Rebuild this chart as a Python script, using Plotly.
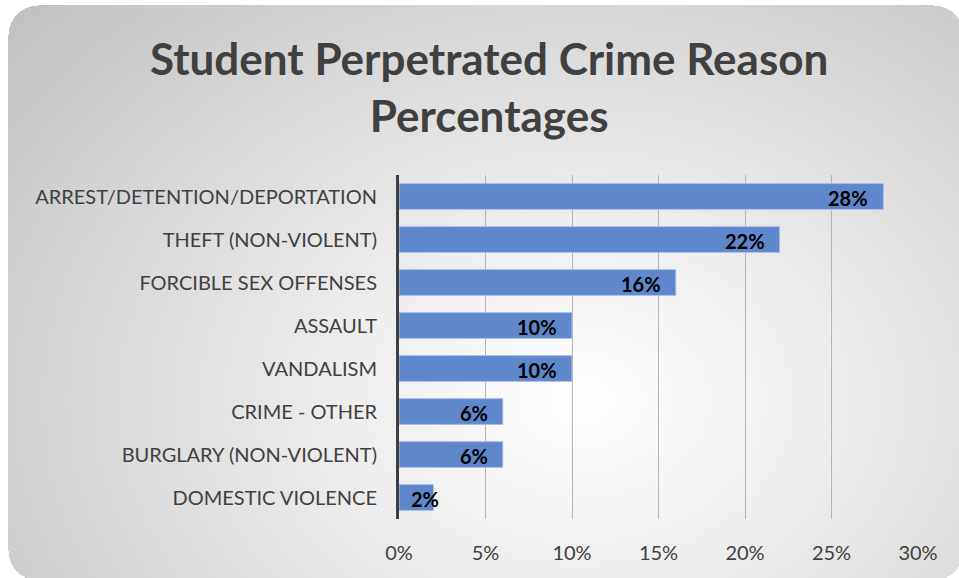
import base64
import struct
import zlib

import numpy as np
import plotly.graph_objects as go

# ---------------- data ----------------
categories = [
    "ARREST/DETENTION/DEPORTATION",
    "THEFT (NON-VIOLENT)",
    "FORCIBLE SEX OFFENSES",
    "ASSAULT",
    "VANDALISM",
    "CRIME - OTHER",
    "BURGLARY (NON-VIOLENT)",
    "DOMESTIC VIOLENCE",
]
values = [28, 22, 16, 10, 10, 6, 6, 2]
value_labels = ["28%", "22%", "16%", "10%", "10%", "6%", "6%", "2%"]
x_tick_values = [0, 5, 10, 15, 20, 25, 30]
x_tick_labels = ["0%", "5%", "10%", "15%", "20%", "25%", "30%"]
title_text = "Student Perpetrated Crime Reason<br>Percentages"

# ---------------- layout constants ----------------
W, H = 959, 578
ML, MR, MT, MB = 399, 41, 175, 59
FONT = "Lato, 'Open Sans', sans-serif"
TEXT_COLOR = "#404040"


def make_background_png(w, h):
    yy, xx = np.mgrid[0:h, 0:w].astype(float)
    cx, cy, rx, ry = 580.0, 400.0, 650.0, 500.0
    d = np.sqrt(((xx - cx) / rx) ** 2 + ((yy - cy) / ry) ** 2)
    val = 255 - 52 * np.clip(d, 0, 1.3) ** 1.1
    val = np.clip(val, 0, 255)
    # rounded rectangle alpha
    x0, y0, x1, y1, r = 8.0, 5.0, w + 4.0, h + 2.0, 30.0
    inside = (xx >= x0) & (xx <= x1) & (yy >= y0) & (yy <= y1)
    for (ccx, ccy) in [(x0 + r, y0 + r), (x1 - r, y0 + r), (x0 + r, y1 - r), (x1 - r, y1 - r)]:
        corner = ((xx < x0 + r) if ccx < w / 2 else (xx > x1 - r)) & \
                 ((yy < y0 + r) if ccy < h / 2 else (yy > y1 - r))
        outside_circle = (xx - ccx) ** 2 + (yy - ccy) ** 2 > r * r
        inside &= ~(corner & outside_circle)
    alpha = np.where(inside, 255, 0)
    rgba = np.stack([val, val, val, alpha], axis=-1).astype(np.uint8)
    raw = b"".join(b"\x00" + rgba[i].tobytes() for i in range(h))

    def chunk(tag, data):
        c = struct.pack(">I", len(data)) + tag + data
        return c + struct.pack(">I", zlib.crc32(tag + data) & 0xFFFFFFFF)

    png = b"\x89PNG\r\n\x1a\n"
    png += chunk(b"IHDR", struct.pack(">IIBBBBB", w, h, 8, 6, 0, 0, 0))
    png += chunk(b"IDAT", zlib.compress(raw, 9))
    png += chunk(b"IEND", b"")
    return "data:image/png;base64," + base64.b64encode(png).decode()


bg = make_background_png(W, H)
pw = W - ML - MR
ph = H - MT - MB

fig = go.Figure()
fig.add_trace(
    go.Bar(
        x=values,
        y=categories,
        orientation="h",
        marker=dict(color="rgb(94,135,204)", line=dict(color="rgb(170,192,232)", width=1)),
        width=0.6,
        hoverinfo="skip",
    )
)

annotations = []
for cat, v, lab in zip(categories, values, value_labels):
    small = v < 3
    annotations.append(
        dict(
            x=v,
            y=cat,
            xref="x",
            yref="y",
            text=f"<b>{lab}</b>",
            showarrow=False,
            xanchor="center" if small else "right",
            xshift=-9 if small else -13,
            yshift=-1,
            font=dict(family=FONT, size=20, color="#000000"),
        )
    )

# title as a paper annotation (two lines)
annotations.append(
    dict(
        x=(489 - ML) / pw,
        y=1 + (MT - 86) / ph,
        xref="paper",
        yref="paper",
        xanchor="center",
        yanchor="middle",
        text=f"<b>{title_text}</b>",
        showarrow=False,
        font=dict(family=FONT, size=44, color=TEXT_COLOR),
    )
)

fig.update_layout(
    width=W,
    height=H,
    margin=dict(l=ML, r=MR, t=MT, b=MB),
    paper_bgcolor="white",
    plot_bgcolor="rgba(0,0,0,0)",
    showlegend=False,
    xaxis=dict(
        range=[0, 30],
        tickvals=x_tick_values,
        ticktext=x_tick_labels,
        showgrid=True,
        gridcolor="#b4b4b4",
        gridwidth=1.3,
        zeroline=False,
        showline=False,
        ticks="",
        ticklabelstandoff=20,
        tickfont=dict(family=FONT, size=20, color=TEXT_COLOR),
        fixedrange=True,
    ),
    yaxis=dict(
        categoryorder="array",
        categoryarray=categories[::-1],
        range=[-0.5, len(categories) - 0.5],
        showgrid=False,
        zeroline=False,
        showline=True,
        linecolor="#404040",
        linewidth=3,
        ticks="",
        ticklabelstandoff=15,
        tickfont=dict(family=FONT, size=20, color=TEXT_COLOR),
        fixedrange=True,
    ),
    annotations=annotations,
    images=[
        dict(
            source=bg,
            xref="paper",
            yref="paper",
            x=-ML / pw,
            y=1 + MT / ph,
            sizex=W / pw,
            sizey=H / ph,
            xanchor="left",
            yanchor="top",
            sizing="stretch",
            layer="below",
        )
    ],
)

fig.write_html(
    "out.html",
    config={"displayModeBar": False},
    post_script="document.body.style.margin='0';document.body.style.overflow='hidden';",
)
